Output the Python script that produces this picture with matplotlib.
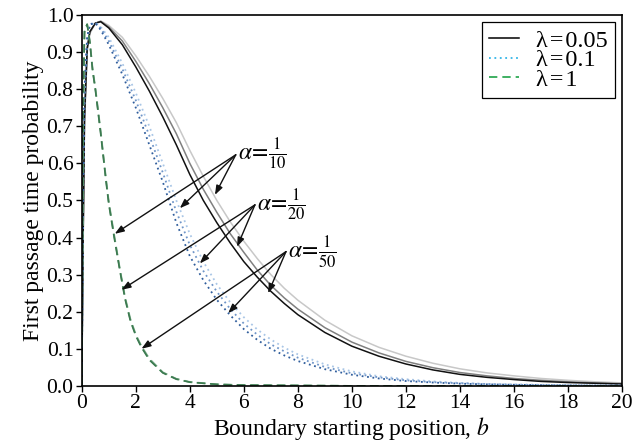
import matplotlib
matplotlib.use("Agg")
import matplotlib.pyplot as plt
from matplotlib.lines import Line2D

plt.rcParams['font.family'] = ['Liberation Serif', 'DejaVu Serif']
plt.rcParams['mathtext.fontset'] = 'stix'

# boundary starting position b
b = [0, 0.05, 0.1, 0.2, 0.3, 0.5, 0.7, 1, 1.5, 2, 2.5, 3, 3.5, 4, 4.5, 5, 5.5, 6,
     6.5, 7, 7.5, 8, 9, 10, 11, 12, 13, 14, 15, 16, 17, 18, 19, 20]

# lambda = 0.05 (solid), alpha = 1/50, 1/20, 1/10
lam005_a50 = [0, 0.40, 0.72, 0.91, 0.955, 0.978, 0.982, 0.965, 0.92, 0.86, 0.795, 0.725,
              0.65, 0.57, 0.50, 0.44, 0.385, 0.335, 0.293, 0.255, 0.222, 0.192, 0.144,
              0.107, 0.080, 0.059, 0.043, 0.031, 0.023, 0.017, 0.012, 0.009, 0.007, 0.005]
lam005_a20 = [0, 0.40, 0.72, 0.91, 0.955, 0.978, 0.983, 0.968, 0.93, 0.875, 0.815, 0.75,
              0.68, 0.60, 0.53, 0.468, 0.41, 0.36, 0.312, 0.271, 0.237, 0.207, 0.157,
              0.118, 0.089, 0.066, 0.049, 0.036, 0.027, 0.020, 0.015, 0.011, 0.008, 0.006]
lam005_a10 = [0, 0.38, 0.70, 0.90, 0.95, 0.977, 0.984, 0.972, 0.94, 0.89, 0.835, 0.775,
              0.71, 0.635, 0.565, 0.50, 0.442, 0.39, 0.343, 0.30, 0.263, 0.231, 0.177,
              0.135, 0.104, 0.080, 0.061, 0.046, 0.035, 0.027, 0.020, 0.015, 0.011, 0.008]

# lambda = 0.1 (dotted)
lam01_a50 = [0, 0.55, 0.80, 0.94, 0.975, 0.978, 0.96, 0.92, 0.84, 0.75, 0.65, 0.55, 0.44,
             0.35, 0.285, 0.232, 0.19, 0.153, 0.124, 0.100, 0.082, 0.067, 0.045, 0.030,
             0.020, 0.013, 0.009, 0.006, 0.004, 0.003, 0.002, 0.001, 0.001, 0.001]
lam01_a20 = [0, 0.55, 0.80, 0.94, 0.975, 0.98, 0.965, 0.93, 0.855, 0.77, 0.675, 0.575, 0.47,
             0.38, 0.31, 0.254, 0.207, 0.168, 0.138, 0.112, 0.093, 0.076, 0.051, 0.034,
             0.023, 0.015, 0.010, 0.007, 0.005, 0.003, 0.002, 0.002, 0.001, 0.001]
lam01_a10 = [0, 0.52, 0.78, 0.93, 0.97, 0.98, 0.968, 0.94, 0.87, 0.79, 0.70, 0.60, 0.50,
             0.41, 0.335, 0.274, 0.225, 0.185, 0.152, 0.125, 0.103, 0.085, 0.058, 0.039,
             0.026, 0.018, 0.012, 0.008, 0.005, 0.004, 0.003, 0.002, 0.001, 0.001]

# lambda = 1 (dashed), finer grid near the origin
b_fast = [0, 0.05, 0.1, 0.2, 0.3, 0.4, 0.5, 0.6, 0.7, 0.8, 0.9, 1.0, 1.2, 1.4, 1.6, 1.8,
          2.0, 2.2, 2.5, 3.0, 3.5, 4, 5, 6, 8, 10, 20]
lam1_a50 = [0, 0.75, 0.96, 0.975, 0.925, 0.85, 0.80, 0.74, 0.68, 0.615, 0.55, 0.49, 0.40,
            0.315, 0.235, 0.175, 0.135, 0.105, 0.07, 0.035, 0.018, 0.010, 0.004, 0.002,
            0.001, 0, 0]
lam1_a20 = [0, 0.74, 0.955, 0.975, 0.927, 0.853, 0.803, 0.744, 0.684, 0.619, 0.554, 0.494,
            0.404, 0.318, 0.238, 0.178, 0.137, 0.107, 0.072, 0.036, 0.019, 0.010, 0.004,
            0.002, 0.001, 0, 0]
lam1_a10 = [0, 0.73, 0.95, 0.975, 0.93, 0.856, 0.806, 0.748, 0.688, 0.623, 0.558, 0.498,
            0.408, 0.321, 0.241, 0.181, 0.139, 0.109, 0.074, 0.037, 0.019, 0.011, 0.004,
            0.002, 0.001, 0, 0]

legend_labels = ['λ\u200a=\u200a0.05', 'λ\u200a=\u200a0.1', 'λ\u200a=\u200a1']
alpha_labels = [r'$\alpha\!=\!\frac{1}{10}$', r'$\alpha\!=\!\frac{1}{20}$',
                r'$\alpha\!=\!\frac{1}{50}$']

fig = plt.figure(figsize=(6.34, 4.42), dpi=100)
ax = fig.add_axes([0.129, 0.127, 0.852, 0.839])

ax.plot(b, lam005_a10, color='#c8c8c8', lw=1.1)
ax.plot(b, lam005_a20, color='#808080', lw=1.1)
ax.plot(b, lam005_a50, color='#111111', lw=1.1)

dot = (0, (1, 2))
ax.plot(b, lam01_a10, color='#a9c6e6', lw=1.3, ls=dot)
ax.plot(b, lam01_a20, color='#6f95c8', lw=1.3, ls=dot)
ax.plot(b, lam01_a50, color='#2f5d9c', lw=1.3, ls=dot)

dash = (0, (5, 3))
ax.plot(b_fast, lam1_a10, color='#a8cbb2', lw=1.2, ls=dash)
ax.plot(b_fast, lam1_a20, color='#6fa47f', lw=1.2, ls=dash)
ax.plot(b_fast, lam1_a50, color='#3c7a50', lw=1.2, ls=dash)

# alpha annotations: label position and arrow tips (one per lambda family)
label_pos = [(5.70, 0.623), (6.41, 0.488), (7.56, 0.362)]
arrow_tips = [
    [(4.93, 0.515), (3.63, 0.479), (1.22, 0.41)],
    [(5.75, 0.375), (4.37, 0.33), (1.47, 0.259)],
    [(6.90, 0.25), (5.42, 0.196), (2.21, 0.10)],
]
for lab, pos, tips in zip(alpha_labels, label_pos, arrow_tips):
    ax.text(pos[0] + 0.08, pos[1], lab, fontsize=17, ha='left', va='center')
    for tip in tips:
        ax.annotate('', xy=tip, xytext=pos,
                    arrowprops=dict(arrowstyle='-|>,head_length=0.55,head_width=0.2',
                                    color='#111111', lw=1.0, shrinkA=0, shrinkB=0))

handles = [
    Line2D([], [], color='black', lw=1.1),
    Line2D([], [], color='#33b5e8', lw=1.3, ls=dot),
    Line2D([], [], color='#1fa348', lw=1.2, ls=dash),
]
leg = ax.legend(handles, legend_labels, loc='upper right', prop={'size': 17.5},
                frameon=True, fancybox=False, edgecolor='black', framealpha=1,
                borderaxespad=0.3, handlelength=1.2, labelspacing=-0.1,
                borderpad=0.3, handletextpad=0.7)
leg.get_frame().set_linewidth(0.9)

ax.set_xlim(0, 20)
ax.set_ylim(0, 1.0)
ax.set_xticks(range(0, 21, 2))
ax.set_yticks([i / 10 for i in range(11)])
ax.set_yticklabels([f'{i / 10:.1f}' for i in range(11)])
ax.tick_params(direction='out', length=4, width=1, labelsize=15.5, pad=2)
for s in ax.spines.values():
    s.set_linewidth(1.2)

ax.set_xlabel(r'Boundary starting position, $b$', fontsize=17, labelpad=1)
ax.set_ylabel('First passage time probability', fontsize=17, labelpad=2)

fig.savefig('out.png', dpi=100)
